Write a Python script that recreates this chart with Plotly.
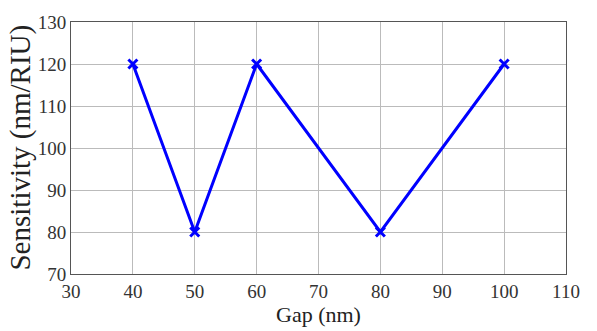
import plotly.graph_objects as go

gap_nm = [40, 50, 60, 80, 100]
sensitivity = [120, 80, 120, 80, 120]
x_ticks = [30, 40, 50, 60, 70, 80, 90, 100, 110]
y_ticks = [70, 80, 90, 100, 110, 120, 130]

fig = go.Figure()
fig.add_trace(go.Scatter(
    x=gap_nm, y=sensitivity, mode="lines+markers",
    line=dict(color="#0000ff", width=3),
    marker=dict(symbol="x-thin", size=9, color="#0000ff",
                line=dict(color="#0000ff", width=3)),
    showlegend=False,
))

font = "Times New Roman, Liberation Serif, serif"
fig.update_layout(
    width=597, height=331,
    margin=dict(l=71, r=31, t=20, b=55),
    paper_bgcolor="white", plot_bgcolor="white",
    font=dict(family=font, color="#333333", size=19),
    xaxis=dict(
        range=[30, 110], tickvals=x_ticks, ticktext=[str(v) for v in x_ticks],
        showgrid=True, gridcolor="#bbbbbb", gridwidth=1,
        showline=True, linecolor="#555555", linewidth=1, mirror=True,
        ticks="", zeroline=False,
        tickfont=dict(size=19, family=font, color="#333333"),
        title=dict(text="Gap (nm)", font=dict(size=22, family=font, color="#222222"), standoff=2),
    ),
    yaxis=dict(
        range=[70, 130], tickvals=y_ticks, ticktext=[str(v) for v in y_ticks],
        showgrid=True, gridcolor="#bbbbbb", gridwidth=1,
        showline=True, linecolor="#555555", linewidth=1, mirror=True,
        ticks="", zeroline=False,
        tickfont=dict(size=19, family=font, color="#333333"),
    ),
    annotations=[dict(
        text="Sensitivity (nm/RIU)", textangle=-90, showarrow=False,
        xref="paper", yref="paper", x=-0.103, y=0.502,
        xanchor="center", yanchor="middle",
        font=dict(size=29, family=font, color="#222222"),
    )],
)
fig.write_html("out.html")
